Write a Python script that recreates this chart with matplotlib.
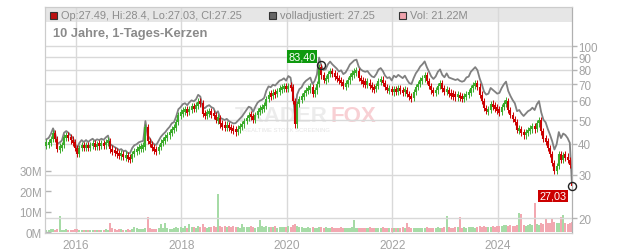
import numpy as np
import pandas as pd
import matplotlib
matplotlib.use("Agg")
import matplotlib.pyplot as plt
import matplotlib.dates as mdates
from matplotlib.patches import Rectangle
from matplotlib.ticker import FixedLocator, FuncFormatter, NullLocator

plt.rcParams['font.family'] = ['Liberation Sans', 'DejaVu Sans']

# half-monthly closes, Jun 2015 .. May 2025
closes = [
    # 2015
    40.0, 40.5, 42.0, 44.3, 42.0, 38.3, 38.8, 39.5, 42.5, 43.2, 42.5, 41.5, 40.6,
    # 2016
    38.5, 36.5, 38.5, 39.5, 38.8, 39.5, 38.8, 39.5, 40.0, 39.2, 39.8, 39.5,
    40.0, 39.6, 40.5, 41.2, 38.0, 37.5, 37.0, 36.6, 36.0, 36.3, 35.6, 35.8,
    # 2017
    35.0, 34.8, 36.5, 37.5, 37.8, 38.5, 38.8, 39.0, 47.0, 41.0, 40.0, 38.5,
    37.8, 37.6, 39.0, 40.5, 41.5, 42.3, 43.5, 44.5, 46.0, 46.5, 49.0, 52.5,
    # 2018
    53.5, 54.5, 55.0, 54.0, 55.5, 56.5, 56.0, 57.0, 59.5, 58.5, 53.0, 52.5,
    53.5, 54.0, 53.0, 52.5, 50.0, 51.0, 48.0, 47.5, 47.0, 47.5, 46.5, 46.0,
    # 2019
    45.5, 45.0, 46.0, 47.0, 48.0, 49.5, 51.0, 52.5, 52.0, 50.0, 52.5, 54.5,
    55.5, 56.0, 57.0, 61.0, 63.5, 63.0, 64.5, 64.0, 65.5, 67.0, 67.5, 68.5,
    # 2020
    67.0, 69.0, 68.0, 60.0, 48.0, 58.0, 61.0, 62.0, 64.5, 66.0, 67.0, 68.0,
    64.0, 66.0, 70.0, 82.0, 76.0, 73.0, 73.5, 77.0, 79.0, 77.0, 75.5, 74.0,
    # 2021
    72.0, 71.5, 69.0, 70.0, 72.5, 75.5, 77.0, 78.5, 79.0, 74.0, 72.0, 71.0,
    70.5, 71.0, 69.0, 67.5, 67.0, 69.0, 72.0, 73.0, 71.0, 68.0, 66.5, 67.0,
    # 2022
    65.0, 66.5, 65.5, 67.0, 66.0, 65.0, 66.5, 64.0, 62.0, 61.5, 65.0, 68.0,
    70.0, 72.5, 74.0, 76.0, 72.0, 69.0, 66.0, 64.5, 66.0, 69.0, 70.5, 67.0,
    # 2023
    65.5, 66.5, 64.0, 63.5, 63.0, 62.5, 63.0, 62.0, 61.5, 62.0, 64.0, 64.5,
    67.5, 69.0, 70.5, 68.5, 63.5, 60.0, 56.0, 54.5, 55.0, 58.0, 57.0, 56.0,
    # 2024
    55.0, 54.0, 56.5, 58.5, 60.0, 55.0, 52.5, 50.5, 49.0, 45.5, 46.0, 44.5,
    43.5, 44.5, 45.5, 46.0, 47.0, 46.0, 48.5, 50.0, 45.0, 42.0, 41.0, 38.5,
    # 2025
    36.5, 33.5, 31.0, 32.5, 36.5, 34.5, 36.0, 35.5, 34.5, 33.0, 27.25,
]

# volume per bar, millions
volumes = [
    1.2, 1.4, 1.8, 1.5, 1.3, 1.6, 8.2, 1.4, 1.2, 1.5, 1.1, 1.3, 1.4,
    1.6, 1.8, 1.3, 1.2, 1.0, 1.2, 1.4, 1.1, 1.2, 1.0, 1.3, 1.1,
    1.2, 1.4, 1.5, 1.3, 4.5, 2.2, 1.6, 1.4, 1.8, 1.5, 1.3, 1.2,
    1.5, 1.4, 1.6, 2.6, 2.0, 1.8, 1.5, 1.7, 2.4, 7.6, 2.3, 1.8,
    1.6, 1.5, 2.0, 4.0, 2.2, 4.6, 2.4, 1.8, 1.9, 2.1, 2.6, 2.2,
    2.5, 2.2, 3.0, 2.4, 4.2, 2.6, 2.8, 2.3, 3.2, 2.6, 4.0, 2.8,
    2.4, 2.6, 2.5, 3.0, 2.7, 18.7, 3.2, 2.8, 3.4, 2.6, 3.0, 2.8,
    3.0, 2.6, 2.8, 2.4, 4.0, 2.6, 2.5, 2.8, 3.2, 2.6, 2.4, 2.7,
    6.3, 3.0, 2.6, 3.4, 2.8, 2.5, 2.6, 3.0, 2.4, 2.6, 2.8, 2.5,
    2.6, 3.0, 2.8, 3.6, 4.0, 3.4, 2.8, 2.6, 2.4, 2.2, 2.5, 2.3,
    2.6, 2.4, 2.2, 2.8, 2.5, 2.3, 2.6, 2.4, 2.2, 2.5, 2.3, 2.4,
    2.2, 2.5, 2.3, 2.0, 2.4, 2.2, 2.6, 6.0, 2.3, 2.1, 2.4, 2.2,
    2.0, 2.3, 2.5, 2.1, 2.2, 2.4, 2.0, 2.2, 2.6, 2.1, 2.3, 2.2,
    2.3, 2.1, 2.4, 2.2, 2.0, 2.5, 2.2, 4.8, 2.6, 2.4, 2.2, 2.0,
    2.3, 2.1, 2.4, 2.2, 2.5, 2.3, 2.1, 2.4, 2.2, 2.6, 2.3, 2.4,
    2.5, 8.0, 2.6, 2.4, 2.3, 2.5, 2.6, 7.5, 2.4, 2.6, 2.3, 2.5,
    2.8, 2.6, 2.4, 2.7, 3.0, 2.8, 3.2, 2.9, 2.6, 2.8, 3.0, 2.7,
    3.2, 3.0, 3.4, 3.8, 3.5, 3.2, 3.6, 3.0, 3.4, 3.8, 9.5, 9.0,
    3.6, 3.4, 3.8, 4.0, 3.6, 14.4, 4.2, 3.8, 4.5, 4.2, 7.0, 4.4,
    4.6, 6.5, 5.0, 4.4, 4.8, 7.4, 8.5, 4.6, 4.2, 4.8, 5.2,
]

# "volladjustiert" factor vs. close, per calendar year
adj_years = [2015, 2016, 2017, 2018, 2019, 2020, 2021, 2022, 2023, 2024, 2025]
adj_factor = [1.045, 1.05, 1.055, 1.065, 1.08, 1.095, 1.115, 1.14, 1.165, 1.195, 1.225]

last_open = 27.49
last_adj = 27.25
hi_date, hi_val = "2020-08-25", 83.40
lo_val = 27.03

dates = pd.date_range("2015-06-10", "2025-05-31", periods=len(closes))
closes = np.array(closes)
volumes = np.array(volumes)

opens = np.r_[closes[0], closes[:-1]]
opens[-1] = last_open
up = closes >= opens

fac = dict(zip(adj_years, adj_factor))
adjusted = np.array([c * fac[d.year] for c, d in zip(closes, dates)])
adjusted[-1] = last_adj

fig = plt.figure(figsize=(6.32, 2.53), dpi=100)
ax = fig.add_axes([45 / 632, 19 / 253, 527 / 632, 226 / 253])  # volume
axp = ax.twinx()                                               # price

# header band + watermark on the bottom axes
ax.add_patch(Rectangle((0, 0.934), 1, 0.066, transform=ax.transAxes,
                       facecolor="#e6e6e6", edgecolor="none", zorder=0))
ax.text(235 / 632, 1 - 117 / 253, "TRADER", transform=fig.transFigure,
        fontsize=16, fontweight="bold", color="#ececec", va="center", zorder=0.2)
ax.text(331 / 632, 1 - 117 / 253, "FOX", transform=fig.transFigure,
        fontsize=16, fontweight="bold", color="#f8d0d4", va="center", zorder=0.2)
ax.text(243 / 632, 1 - 130 / 253, "REALTIME STOCK SCREENING", transform=fig.transFigure,
        fontsize=4.2, color="#e4e4e4", va="center", zorder=0.2)

vol_col = np.where(up, "#a6dba6", "#f2a8b1")
ax.bar(dates, volumes, width=14, color=vol_col, linewidth=0, zorder=2)
ax.set_ylim(-0.25, 110)
ax.set_xlim(pd.Timestamp("2015-05-31"), pd.Timestamp("2025-05-31"))
ax.yaxis.set_major_locator(FixedLocator([0, 10, 20, 30]))
ax.yaxis.set_major_formatter(FuncFormatter(lambda v, p: f"{v:.0f}M"))
ax.tick_params(axis="y", direction="in", length=4, width=1, color="#b5b5b5",
               labelcolor="#a3a3a3", labelsize=8.4, pad=2)
ax.xaxis.set_major_locator(mdates.YearLocator(2))
ax.xaxis.set_major_formatter(mdates.DateFormatter("%Y"))
ax.tick_params(axis="x", length=0, labelcolor="#a3a3a3", labelsize=8.6, pad=4)
ax.grid(axis="x", color="#d9d9d9", linewidth=1, zorder=0.5)
ax.set_axisbelow(True)

# price: gray adjusted line + candles
axp.set_yscale("log")
axp.set_ylim(17.38, 144.2)
axp.plot(dates, adjusted, color="#808080", linewidth=1.3, zorder=3)
lo = np.minimum(opens, closes)
hi = np.maximum(opens, closes)
mid = np.sqrt(lo * hi)
lo = np.minimum(lo, mid / 1.015)
hi = np.maximum(hi, mid * 1.015)
for mask, col in [(up, "#3aab2a"), (~up, "#cc0000")]:
    # thin wicks, then bodies
    axp.vlines(dates[mask], lo[mask] / 1.03, hi[mask] * 1.03, color=col,
               linewidth=0.7, zorder=4)
    axp.vlines(dates[mask], lo[mask], hi[mask], color=col, linewidth=1.5, zorder=4)

axp.yaxis.set_major_locator(FixedLocator([20, 30, 40, 50, 60, 70, 80, 90, 100]))
axp.yaxis.set_major_formatter(FuncFormatter(lambda v, p: f"{v:g}"))
axp.yaxis.set_minor_locator(NullLocator())
axp.tick_params(axis="y", direction="out", length=3.5, width=1, color="#b5b5b5",
                labelcolor="#a3a3a3", labelsize=8.4, pad=1)
axp.grid(axis="y", color="#d9d9d9", linewidth=1, zorder=0.5)
axp.set_axisbelow(True)

for a in (ax, axp):
    for s in a.spines.values():
        s.set_color("#cccccc")
    a.spines["right"].set_color("#b0b0b0")

# high / low markers
hd = pd.Timestamp(hi_date)
axp.plot([hd], [hi_val], "o", mfc="none", mec="#222222", ms=5.8, mew=1, zorder=6)
axp.annotate(f"{hi_val:.2f}".replace(".", ","), xy=(hd, hi_val), xytext=(-13.7, 6.6),
             textcoords="offset points", ha="center", va="center", color="white",
             fontsize=7.8, zorder=7,
             bbox=dict(boxstyle="square,pad=0.12", fc="#0f9a0f", ec="none"))
axp.plot([dates[-1]], [lo_val], "o", mfc="none", mec="#222222", ms=5.8, mew=1,
         zorder=6, clip_on=False)
axp.annotate(f"{lo_val:.2f}".replace(".", ","), xy=(dates[-1], lo_val), xytext=(-13.5, -7.3),
             textcoords="offset points", ha="center", va="center", color="white",
             fontsize=7.8, zorder=7,
             bbox=dict(boxstyle="square,pad=0.12", fc="#cc0000", ec="none"))

# header texts
hdr_y = 1 - 16 / 253
for x0, fc in [(50, "#bb1111"), (269, "#666666"), (399, "#f0a3ad")]:
    fig.add_artist(Rectangle((x0 / 632, 1 - 19.7 / 253), 7 / 632, 7 / 253,
                             transform=fig.transFigure, facecolor=fc,
                             edgecolor="#333333", linewidth=0.8))
fig.text(61 / 632, hdr_y, "Op:27.49, Hi:28.4, Lo:27.03, Cl:27.25",
         fontsize=7.9, color="#8c8c8c", va="center")
fig.text(280 / 632, hdr_y, "volladjustiert: 27.25", fontsize=7.9, color="#8c8c8c", va="center")
fig.text(410 / 632, hdr_y, "Vol: 21.22M", fontsize=7.9, color="#8c8c8c", va="center")
fig.text(53 / 632, 1 - 33.5 / 253, "10 Jahre, 1-Tages-Kerzen", fontsize=9.3,
         fontweight="bold", color="#8a8a8a", va="center")

fig.savefig("out.png", dpi=100)
